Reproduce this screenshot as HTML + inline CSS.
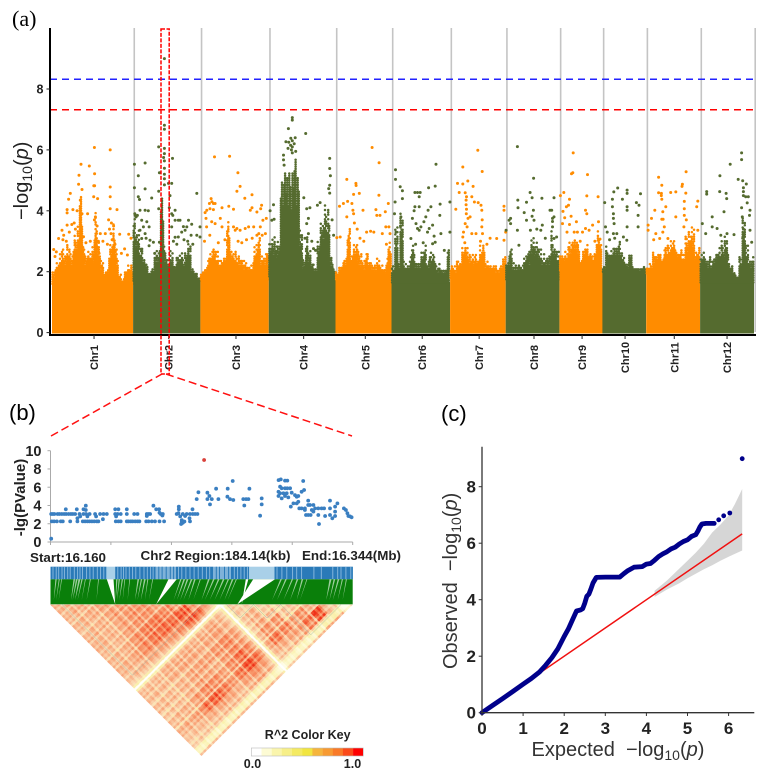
<!DOCTYPE html>
<html>
<head>
<meta charset="utf-8">
<title>GWAS figure</title>
<style>
html,body{margin:0;padding:0;background:#fff;}
body{width:767px;height:777px;overflow:hidden;}
svg{display:block;font-family:"Liberation Sans",sans-serif;filter:blur(.3px);}
.b{font-weight:bold;}
</style>
</head>
<body>
<svg id="fig" xmlns="http://www.w3.org/2000/svg" width="767" height="777" viewBox="0 0 767 777">
<rect width="767" height="777" fill="#fff"/>
<text x="12" y="26" font-family="Liberation Serif,serif" font-size="22">(a)</text>
<text x="9" y="420" font-size="22">(b)</text>
<text x="441" y="421" font-size="22">(c)</text>
<g id="manhattan"></g>
<g id="zoomguides"></g>
<g id="regional"></g>
<g id="ld"></g>
<g id="qq"></g>
</svg>
<script>
/* ===== Panel (a) Manhattan data ===== */
const chromNames = ["Chr1","Chr2","Chr3","Chr4","Chr5","Chr6","Chr7","Chr8","Chr9","Chr10","Chr11","Chr12"];
const chromLengthsMb = [43,35.7,36.3,35.4,29.7,31.1,29.5,28.5,22.8,23.2,28.6,28.6];
const chromLabelMb = [22.3,18.9,18.9,18.5,15.8,16.3,15.4,15,12,12,14.9,14.3];
const yTicksA = [0,2,4,6,8];
const thresholdBlue = 8.32;
const thresholdRed = 7.32;
/* level under which each chromosome is a solid mass of points */
const solidTop = [1.6,1.7,1.75,1.85,1.75,1.65,1.8,1.75,2.05,2.0,1.95,1.65];
/* upper edge of the speckled band per evenly spaced bin along each chromosome */
const denseTop = [
 [2.0,2.3,2.6,2.8,2.7,2.9,2.6,3.2,3.6,4.5,3.0,2.6,2.7,2.9,4.0,3.0,2.4,2.0,2.1,2.9,3.6,2.8,1.9,1.6,2.1,2.2,2.3],
 [3.8,3.4,2.9,2.5,2.3,2.0,2.1,2.7,2.8,4.6,2.9,2.5,2.7,2.3,2.6,2.7,2.5,2.7,3.0,2.2,2.0,1.6],
 [2.0,2.1,2.4,2.7,2.8,2.7,2.5,2.5,2.6,3.7,2.7,2.7,2.6,2.5,2.4,2.3,2.2,2.3,3.0,3.2,2.6,2.5,2.7],
 [3.0,3.3,3.0,3.0,5.0,5.3,5.25,5.3,5.75,5.3,3.4,2.4,3.2,2.8,2.3,2.1,3.0,3.6,4.2,4.2,2.5,2.2],
 [2.0,2.2,2.4,2.5,3.5,2.7,3.0,2.9,2.6,2.4,2.7,2.4,2.3,2.2,2.5,2.3,2.1,2.5,3.0],
 [2.2,3.5,2.4,4.0,2.4,2.2,2.5,3.0,2.4,2.4,2.7,2.9,2.4,2.7,2.7,2.2,2.3,2.1,2.1,2.9],
 [2.2,2.2,2.4,2.4,2.8,2.9,2.6,2.7,2.6,2.5,2.9,3.0,2.4,2.3,2.2,2.2,2.1,2.2,2.5],
 [2.4,2.8,2.4,2.2,2.3,2.2,2.6,2.8,3.2,3.2,3.0,2.8,2.6,2.5,2.6,3.4,2.8,2.7],
 [2.6,2.5,2.7,3.0,3.1,3.2,3.1,2.4,2.8,2.9,2.6,2.6,2.6,3.4,3.0],
 [2.2,2.9,2.6,2.8,2.9,3.0,2.7,2.5,2.3,2.6,2.2,2.1,2.1,2.1,2.2],
 [2.2,2.3,2.7,2.6,2.7,2.5,2.9,3.0,3.1,3.1,2.7,2.8,2.6,3.3,3.4,3.5,2.7,2.8],
 [2.7,2.7,2.4,2.5,2.5,2.7,2.9,3.1,3.2,2.6,2.2,2.0,1.9,2.6,3.9,3.0,2.4,2.5]
];
/* texture profile: how far each pixel column reaches into the band, and how well it is filled */
const columnReach = [1,.8,.95,.68,1,.85,.62,.98,.74,.9,1,.66,.94,.82,1,.72,.88];
const columnFill = [.55,1,.3,.8,.45,.95,.2,.7,.38,1,.6,.25,.88,.5,.72,.33,.65,.15,.92];
/* SNPs above the dense band: [Mb on chromosome, -log10 p] */
const snps1 = [[22.5,6.08],[30.9,6.0],[15.4,5.53],[19.8,5.47],[22.6,5.22],[14.3,5.17],[14.1,4.87],[22.6,4.82],[22.2,4.82],[30.9,4.78],[15.9,4.7],[9.7,4.57],[30.9,4.46],[22.1,4.46],[24.2,4.4],[8.8,4.38],[15,4.35],[8,4.04],[8,3.93],[15.9,3.9],[18.9,3.9],[34.5,4.04],[11.1,4.04],[30.9,4.07],[8,3.53],[5.3,3.36],[30,3.7],[32.7,3.5],[31.5,3.6],[3.5,3.09],[6.2,3.2],[20.3,3.0],[25.6,3.25],[28.3,3.25],[35.9,3.23],[40.7,3.23],[41.9,3.1],[0.9,2.73],[22.5,3.7],[23,3.8],[23.9,3.5],[13.3,4.0],[11.8,3.6],[12.4,3.4],[10.5,3.55],[9.2,3.3],[5.8,3.05],[7.6,3.0],[2.3,2.65],[24.6,3.0],[27,3.0],[29.4,2.9],[30.5,3.4],[31.3,3.25],[33.4,2.9],[36.8,2.6],[38.5,2.75],[40,2.55],[1.6,2.5],[16.7,3.15],[18,2.95],[25,2.6],[31.9,3.05]];
const snps2 = [[16.6,9.0],[16.6,6.81],[16.6,6.68],[13.6,6.1],[16.6,6.05],[16.6,5.88],[16.2,5.75],[16.6,5.64],[20.9,5.72],[0.7,5.53],[6.4,5.57],[14,5.25],[2.8,5.15],[16.6,5.2],[20.5,4.9],[0.7,4.76],[6.4,4.72],[13.6,4.64],[33.8,4.57],[2.8,4.46],[3.4,4.37],[9.9,4.42],[19.6,4.5],[13.6,4.07],[3.7,4.02],[1.1,3.85],[6.4,4.02],[8.1,4],[22.3,4.02],[20.5,3.9],[29.4,3.69],[24.9,3.69],[31.1,3.56],[26.7,3.48],[35.5,3.47],[4.6,3.69],[7.3,3.64],[5.5,3.47],[3.7,3.36],[8.5,3.47],[6.4,3.25],[4.6,3.09],[9,3.03],[10.8,2.97],[14,2.97],[22.3,3.69],[24,3.69],[20.5,3.47],[28.5,3.47],[25.8,3.3],[27.6,3.36],[24,3.14],[22.3,3.13],[30.8,3.2],[33.8,3.2],[31.7,2.9],[35.5,3.14],[16.6,5.4],[16.6,5.05],[16.6,4.85],[18.8,4.9],[19.2,4.1],[21.1,3.85],[0.9,3.9],[1.6,3.8],[2.3,3.85],[6.9,3.1],[8.5,2.85],[11.5,2.6],[21.4,3.0],[23.2,2.9],[29,3.0],[27,3.05]];
const snps3 = [[7.5,5.77],[15.5,5.79],[19.9,5.25],[21.1,4.8],[19.4,4.64],[27.4,4.53],[23.6,4.41],[5.7,4.4],[6.1,4.3],[4.8,4.24],[6.9,4.24],[7.8,4.24],[3.4,4.02],[5.1,4.07],[6.9,4.04],[2.5,3.94],[15.1,4.15],[17.6,4.05],[27.4,4.1],[32.5,4.18],[32,4.07],[11.5,4.1],[26.5,4.02],[30,3.96],[10.6,3.75],[3,3.75],[3.3,3.47],[6,3.64],[7.8,3.58],[11.5,3.47],[35,3.75],[33.2,3.69],[19.4,3.42],[21.1,3.36],[23.8,3.42],[25.6,3.47],[28.3,3.47],[31.8,3.47],[30,3.2],[31,3.25],[32.8,3.2],[34.5,3.25],[17.6,3.47],[18.5,3.36],[5,3.2],[2.2,3.0],[13,3.05],[20,3.0],[22,2.95],[24.5,3.05],[27.5,3.1],[9.5,2.95]];
const snps4 = [[12.5,7.06],[12.5,6.98],[10.4,6.7],[19.6,6.54],[14,6.4],[11.7,6.38],[9.1,6.27],[12.5,6.3],[12.5,6.1],[12.5,5.9],[10.6,6.25],[13.5,6.2],[11.6,6.15],[7.8,5.83],[7.8,5.67],[8.1,5.5],[10.2,6.05],[14.3,5.95],[12,6.0],[32.3,5.72],[32.3,5.39],[32.7,5.15],[32.3,4.84],[31.8,4.73],[32.3,4.58],[2.5,4.2],[0.7,4],[21.8,4.1],[20.1,4.07],[27.2,4.27],[25.8,4.18],[18.6,4.43],[21,3.75],[20.1,3.58],[1.6,3.69],[2.8,3.72],[21,3.25],[23.7,2.76],[19.2,3.1],[22.8,3.0],[24.8,2.7],[26.8,2.55],[33.6,3.7],[34.4,3.2]];
const snps5 = [[19.4,6.08],[23.1,5.58],[6,5.03],[10.8,4.9],[10.9,4.83],[23,4.51],[12.6,4.57],[9.6,4.54],[6.4,4.31],[4.2,4.24],[2.1,4.15],[8.7,4.24],[21.4,4.04],[14.6,4.02],[9.2,4.02],[9.6,3.9],[21.9,3.85],[6,3.8],[28,4.24],[26.4,3.97],[28.3,3.47],[28.9,3.25],[26.7,3.47],[18.6,3.33],[16.5,3.3],[13,3.1],[2.5,3.14],[0.7,3.12],[20.3,3.3],[23.6,3.85],[10,3.6],[11.5,3.4],[15,3.0],[24.8,3.25],[27,2.9]];
const snps6 = [[23.6,5.53],[2.1,5.35],[2.1,5.03],[23.2,4.81],[19.7,4.76],[4.6,4.79],[5.8,4.66],[12.4,4.6],[13.8,4.6],[15.2,4.6],[14.7,4.46],[5.8,4.4],[1.9,4.29],[31,4.29],[25.8,4.22],[20.9,4.13],[19.4,4.02],[12.4,4.13],[14.7,4.13],[12,4],[18.2,3.8],[25.6,3.85],[11.1,3.75],[13,3.58],[13.8,3.42],[15.6,3.47],[17.2,3.64],[14.7,3.36],[21.8,3.53],[20,3.42],[10.3,3.09],[19.1,3.3],[22.6,3.17],[26.2,3.25],[31,3.3],[23.2,2.97],[21.8,2.92],[4.8,3.5],[5.2,3.2],[1.6,3.9],[5,3.8],[2.4,3.3],[12.8,2.9],[16.8,2.95],[28,2.7]];
const snps7 = [[14.7,5.99],[6.7,5.44],[17,5.29],[9.4,4.98],[3.9,4.9],[6.7,4.88],[12.2,4.8],[4.8,4.6],[8,4.59],[8.7,4.46],[11.5,4.46],[8.5,4.35],[8.5,4.2],[8.7,4.05],[8.6,3.9],[12.9,4.29],[14.9,4.27],[16.4,4.18],[16.8,4.02],[3,4.05],[28.6,4.15],[28.6,4.02],[16.8,3.47],[8,3.58],[9,3.47],[7.1,3.3],[11.5,3.25],[13.7,3.25],[17.2,3.25],[6.7,3.14],[21.2,3.1],[24.7,3.09],[16.1,3.0],[29.5,3.3],[28.6,3.03],[9.5,3.75],[10.6,3.8],[17,3.7],[7.8,2.95],[19.5,2.9]];
const snps8 = [[6.2,6.11],[14.8,5.07],[12.9,4.6],[6.4,4.35],[11,4.28],[14,4.43],[19.2,4.41],[25.6,4.43],[6.5,4.1],[14.7,4.02],[23.5,4.02],[24.4,4.02],[9.8,3.94],[25.6,3.8],[24.8,3.75],[14,3.82],[15,3.69],[2.6,3.75],[1.8,3.69],[11,3.69],[0.2,3.36],[2.6,3.58],[6.2,3.36],[19.4,3.53],[18.6,3.36],[13.1,3.36],[24.8,3.47],[27,3.14],[25.6,3.09],[7,2.87],[16.5,3.4],[21,3.1],[24.8,3.65]];
const snps9 = [[7.3,5.9],[6.4,5.22],[7.1,5.25],[14.9,5.19],[2.3,4.6],[0.5,4.5],[14.5,4.49],[20.5,4.46],[5.3,4.38],[4.8,4.18],[3.7,4.13],[1.9,3.98],[2.8,3.77],[13.8,4.02],[14.5,3.9],[6.2,3.82],[9,3.64],[5.3,3.55],[1.6,3.58],[20.7,3.64],[17.6,3.53],[13.8,3.42],[15.7,3.36],[7.8,3.3],[9.5,3.3],[12.2,3.3],[21.5,3.07],[4,3.3],[18.8,3.0],[11,3.0]];
const snps10 = [[8.1,4.75],[6,4.62],[13.1,4.68],[13.1,4.57],[20.2,4.56],[1.2,4.27],[5.3,4.38],[10.6,4.38],[13.1,4.13],[13.1,4.02],[18,4.27],[19.4,4.18],[5.3,4.13],[5.8,3.9],[5.8,3.75],[6.2,3.58],[18.9,3.85],[18.9,3.47],[13.1,3.47],[1.6,3.47],[2.5,3.3],[5.8,3.25],[7.6,3.25],[11.1,3.14],[12.9,3.03],[6.5,3.1],[3.8,3.05]];
const snps11 = [[6.6,5.1],[21.2,5.28],[19.2,4.87],[8.3,4.84],[19,4.8],[6.6,4.59],[8.1,4.57],[13,4.6],[15.7,4.62],[8,4.5],[21,4.58],[20.2,4.31],[27.4,4.32],[8.3,4.38],[10.4,4.13],[4.6,4.02],[8.8,3.97],[20.2,4.07],[26.8,4.13],[15.7,3.8],[2.8,3.75],[8.3,3.72],[9,3.72],[20.2,3.85],[1,3.53],[1,3.36],[9.6,3.47],[8.8,3.3],[5.1,3.25],[20,3.47],[11.5,3.09],[7.2,3.09],[27.4,3.36],[21.3,3.7],[4,3.05]];
const snps12 = [[22,5.9],[22,5.68],[16,5.53],[10.5,5.15],[20.2,5.03],[22.6,4.99],[24.5,4.88],[23,4.76],[23,4.63],[23,4.5],[3.5,4.63],[3.5,4.55],[10.4,4.63],[13.8,4.57],[14.1,4.4],[24.2,4.46],[25.6,4.46],[25,4.26],[22,4.1],[12.7,3.97],[26.5,4.02],[26.2,3.85],[6.4,3.8],[22.4,3.8],[1.2,3.58],[6.4,3.47],[9,3.42],[26.5,3.36],[27.4,2.97],[14.3,3.25],[18,3.22],[3,3.25],[11,3.2],[23,3.4],[22.6,3.1],[23.4,3.0]];
const chromSnps = [snps1,snps2,snps3,snps4,snps5,snps6,snps7,snps8,snps9,snps10,snps11,snps12];

/* ===== Panel (b) regional data: kb from region start ===== */
const regionTicksY = [0,2,4,6,8,10];
const regionTicksKb = [0,36.8,73.7,110.5,147.3,184.14];
const regionLevelHigh = 3.07;
const regionLevelLow = 2.26;
const regionHighKb = [.4,1.4,2.4,4.3,5.5,6.9,8.3,9.5,11,12.4,13.6,15,17.7,20.1,21.7,23.8,27.2,30.2,32.3,34.3,39.4,40.8,42.8,46.5,51,53,58.7,60.7,67.2,68.4,76.9,80.6,83,85,86.7,88.1,89.5];
const regionLowKb = [.8,2.2,3.9,6.3,7.5,12,16.4,19.7,21.1,22.5,23.8,25.2,26.6,28.2,29.2,39.8,41.4,42.8,46.5,47.5,48.9,50.1,51.6,53,54.2,58.3,59.7,61.7,63.7,66.4,69.2,80,85];
const regionOther = [[.4,.36],[9.3,3.58],[16,3.58],[20.1,3.58],[21.5,3.98],[21.5,3.5],[16.4,2.6],[18.1,2.8],[22.5,2.8],[27.8,2.8],[31.9,2.5],[39.4,3.58],[41.4,3.58],[46.5,3.58],[40,2.8],[59.7,3.07],[58.7,2.85],[62.7,3.98],[64.4,3.58],[66.2,3.58],[66.4,3.2],[68.2,2.9],[78.2,3.88],[78.2,3.58],[78,3.15],[79,2.8],[80,2.4],[80.6,2.1],[79.6,1.97],[81.6,2.24],[82,2.85],[84.7,2.6],[86.5,3.58],[89.1,4.7],[90.1,5.44],[95.6,5.4],[96.8,5.04],[95.6,4.7],[98.3,4.7],[97.2,4.12],[100.9,5.84],[102.3,4.7],[108,5.84],[107.8,4.96],[109.4,4.7],[111,6.68],[111.4,4.6],[121.2,5.84],[117.5,4.7],[119.2,4.7],[120.6,4.7],[118.1,4],[127.7,2.88],[128.7,4.78],[128.7,4.12],[139,6.78],[140.3,6.86],[142.9,6.72],[144.3,6.72],[139.9,6.06],[140.9,5.88],[142.9,5.88],[144.3,5.88],[146,5.88],[138.9,5.5],[139.9,5.33],[141.9,5.33],[143.9,5.33],[138.9,5.04],[140.9,4.78],[142.9,5.04],[144.9,4.88],[147,5.4],[149,5.14],[150,4.96],[151,5.04],[153,5.5],[154.5,5.7],[154,6.68],[146.4,3.88],[148,4.23],[150,4.23],[151,4.4],[151.6,3.68],[153,3.68],[155,3.68],[157,4.53],[157,4.05],[158.1,4.05],[160.2,4.05],[155.7,2.96],[157,2.96],[158.5,2.96],[155,3.5],[159.2,3.5],[160.2,3.33],[161.2,3.68],[163.2,3.68],[165.2,3.68],[166.7,3.68],[163.6,1.97],[163.2,2.96],[167.3,2.85],[170.3,4.53],[170.3,3.68],[170.3,2.96],[171.7,2.6],[173.4,3.33],[173.4,3.88],[174.8,4.23],[173.4,2.85],[178.8,3.68],[180,3.5],[180.9,3.14],[181.5,2.85],[182.5,2.8],[183.5,2.7]];
const regionLead = [93.6,8.98];
/* SNP-track shading segments [startKb,endKb,shade]; 0 dark, 1 mid, 2 light */
const trackSegments = [[0,34,0],[34,39.4,2],[39.4,64,0],[64,76.5,1],[76.5,99,0],[99,110,1],[110,121,0],[121,136.5,2],[136.5,184.14,0]];
const trackStreaksKb = [1.5,3.5,5,7,8.5,10.5,12,14.5,16.5,18,19.5,22,24,26,28.5,30.5,32.5,41,43,44.5,46,48,50,52,54.5,57,59,61,62.5,78,80,82.5,85,87.5,90,92.5,95,97,112,114,116,118,120,138,141,144,147.5,150,153,160.5,165,172,175,177,180,183];
const trackDarkKb = [66,68,70.5,73,75,101,103,106,108.5];
/* white gaps in connector fan: [topStartKb,topEndKb,bottomKb] */
const fanWedges = [[34.3,38.4,39.4],[71.9,76.9,64.4],[123.5,136.8,113.9],[119,120.5,116.5]];
/* pale streaks fanning down from the SNP track: [topStartKb,topEndKb,bottomKb] */
const fanStreaks = [[3,3.8,2],[5,5.6,3.5],[6.5,7,5],[14,15,12.5],[15.5,16.5,13.5],[17,18.2,15],[18.8,19.6,16.5],[21,21.5,19],[24,24.6,22],[29,29.5,28],[40,40.8,39.7],[41.5,42.3,40.5],[43.4,44.2,42],[45,45.5,44],[48,48.5,47],[53,54,51.5],[55,55.8,53],[57,58,55],[59,59.6,57.5],[62,62.5,60],[79,79.8,75],[81,82,77],[83,84,79],[85.5,86.5,81],[87.5,88.5,84],[91,91.6,87],[96,97,92],[99,100,94],[102,103,97],[105,106,100],[108,108.8,103],[110.5,111.5,106],[113,113.6,108],[140,141,135],[143,144,138],[147,147.8,142],[150,151,146],[153,154,150],[156,156.5,152],[170,171.2,168],[172.5,173.5,170],[175,176,172],[177.5,178.2,175],[180,180.6,178]];

/* ===== LD heat map: 18 SNP blocks (upper triangle) × SNP quality ===== */
const ldBlocks = [
 [.64,.62,.62,.6,.62,.62,.6,.62,.62,.58,.6,.6,.6,.58,.6,.62,.55,.6],
 [.64,.64,.62,.62,.6,.6,.62,.64,.62,.6,.6,.6,.6,.62,.64,.58,.6],
 [.66,.66,.64,.62,.66,.7,.72,.64,.62,.62,.6,.62,.64,.7,.6,.6],
 [.68,.7,.68,.72,.78,.78,.66,.64,.64,.62,.66,.72,.84,.62,.6],
 [.7,.72,.74,.82,.82,.68,.62,.66,.66,.7,.76,.88,.64,.6],
 [.7,.72,.82,.84,.7,.62,.64,.66,.66,.72,.76,.62,.6],
 [.68,.78,.86,.78,.62,.64,.68,.66,.68,.7,.62,.6],
 [.7,.92,.92,.62,.66,.72,.74,.76,.82,.68,.62],
 [.72,.86,.64,.68,.76,.8,.86,.94,.72,.62],
 [.68,.6,.62,.68,.72,.76,.82,.68,.6],
 [.55,.55,.56,.56,.6,.66,.6,.55],
 [.52,.62,.68,.72,.8,.62,.55],
 [.5,.6,.72,.76,.66,.56],
 [.5,.58,.7,.72,.58],
 [.55,.72,.82,.62],
 [.6,.95,.68],
 [.6,.7],
 [.5]
];
const snpQuality = [1,.9,1.02,.82,1,1.05,.78,1,.92,1.06,.84,1,.72,1.04,1,.88,1.06,.94,.76,1.04,1,.86,1.08,.8,1,1.04,.88,1.08,1,.82,1.05,.92,1,.74,1.08,1,.86,1.04,.78,1.06,1,.9,1.05,.92,.76,1.04,1,.88,.8,.55,.05,.5,.9,1.02,.88,1.05,.8,1,1.06,.9,.72,1.04,1,.82,1.08,.9,.72,1.04,.92,.76,1.06,1,.84,1.05,.7,1,1.08,.88,1.04,.82,1,1.06,.92,.78,1,.8,.46,.4,.42,.95];
const ldOutlines = [[[3,3],[3,45],[45,45]],[[52,52],[52,60],[60,60],[60,68],[68,68],[68,86],[86,86]]];
const keyColors = ["#ffffff","#fdfbd4","#faf5ac","#f7ef88","#f4ea62","#f1e540","#f5b53c","#f79a32","#f97a28","#fb4a1a","#ff0000"];

/* ===== Panel (c) QQ data ===== */
const qqExpected = [0,0.25,0.5,0.75,1,1.2,1.4,1.55,1.7,1.85,2,2.1,2.2,2.3,2.4,2.45,2.5,2.55,2.6,2.65,2.7,2.78,3,3.2,3.35,3.45,3.55,3.7,3.9,4,4.1,4.2,4.3,4.4,4.5,4.6,4.7,4.8,4.9,5,5.1,5.2,5.25,5.3,5.35,5.45,5.55,5.65,5.76,5.88,6.03,6.33];
const qqObserved = [0,0.25,0.5,0.75,1.01,1.21,1.44,1.68,1.95,2.27,2.7,2.96,3.28,3.6,3.64,3.68,3.88,4.12,4.2,4.38,4.59,4.79,4.8,4.8,4.8,4.92,5.03,5.15,5.17,5.26,5.28,5.4,5.53,5.62,5.7,5.8,5.86,5.97,6.06,6.12,6.24,6.3,6.42,6.57,6.68,6.7,6.7,6.7,6.83,6.97,7.07,8.99];
const ciExpected = [4.2,4.5,4.8,5,5.2,5.4,5.6,5.8,6,6.15,6.33];
const ciUpper = [4.32,4.68,5.1,5.38,5.66,5.98,6.38,6.66,6.98,7.38,7.92];
const ciLower = [4.1,4.36,4.58,4.76,4.92,5.08,5.22,5.38,5.52,5.62,5.74];
const qqLineEnd = 6.33;
const qqTicksX = [0,1,2,3,4,5,6];
const qqTicksY = [0,2,4,6,8];

/* ===== helpers ===== */
const NS = "http://www.w3.org/2000/svg";
function mk(parent, tag, attrs, text){
  const el = document.createElementNS(NS, tag);
  for(const k in attrs) el.setAttribute(k, attrs[k]);
  if(text !== undefined) el.textContent = text;
  parent.appendChild(el);
  return el;
}
const $ = id => document.getElementById(id);

/* ===== draw (a) ===== */
(function(){
  const g = $("manhattan");
  const totalMb = chromLengthsMb.reduce((a,b)=>a+b,0);
  const x0 = 52, pxPerMb = 702/totalMb;
  const yA = v => 332.6 - v*30.45;
  let cum = 0;
  const starts = chromLengthsMb.map(l => { const s = cum; cum += l; return s; });
  const xA = (c, mb) => x0 + (starts[c]+mb)*pxPerMb;
  const colors = ["#FF8C00","#556B2F"];

  chromLengthsMb.forEach((len,c)=>{
    const lx = xA(c,len)+1.2;
    const line = mk(g,"line",{x1:lx,x2:lx,y1:28,y2:332,stroke:"#c4c4c4","stroke-width":1.6});
    
    
  });

  let col_i = 0;
  chromLengthsMb.forEach((len,c)=>{
    const bins = denseTop[c];
    const col = colors[c%2];
    const base = solidTop[c];
    const solid = mk(g,"rect",{x:xA(c,0).toFixed(1),y:yA(base).toFixed(1),width:(xA(c,len)-xA(c,0)).toFixed(1),height:(yA(0)-yA(base)+.9).toFixed(1),fill:col});
    
    
    let d = "";
    const wpx = xA(c,len)-xA(c,0);
    for(let px=0.6; px<wpx-.4; px+=1.05){
      const bin = Math.min(bins.length-1,Math.floor(px/wpx*bins.length));
      const top = bins[bin];
      const span = Math.max(.15,top-base);
      const reach = columnReach[col_i%columnReach.length];
      const x = (xA(c,0)+px).toFixed(1);
      let k = 0;
      for(let v=base; v<=base+span*reach; v+=.075){
        const rel = (v-base)/span;
        const fill = columnFill[(col_i*7+k)%columnFill.length];
        /* tall peaks stay nearly solid, the top of ordinary bins thins out */
        if(span>2.4 || fill+.3 > rel*.9) d += "M"+x+" "+yA(v).toFixed(1)+"h.01";
        k++;
      }
      col_i++;
    }
    const band = mk(g,"path",{d:d,fill:"none",stroke:col,"stroke-width":2.5,"stroke-linecap":"round"});
    
    
    chromSnps[c].forEach(p=>{
      const dot = mk(g,"circle",{cx:xA(c,p[0]).toFixed(1),cy:yA(p[1]).toFixed(1),r:1.5,fill:col});
      
      
    });
  });

  const blue = mk(g,"line",{x1:50,x2:757,y1:yA(thresholdBlue),y2:yA(thresholdBlue),stroke:"#2222ff","stroke-width":1.6,"stroke-dasharray":"7 5"});
  
  
  const red = mk(g,"line",{x1:50,x2:757,y1:yA(thresholdRed),y2:yA(thresholdRed),stroke:"#ff0000","stroke-width":1.5,"stroke-dasharray":"7 5"});
  
  

  const yAxis = mk(g,"line",{x1:50,x2:50,y1:28,y2:335.5,stroke:"#000","stroke-width":2});
  
  
  const xAxis = mk(g,"line",{x1:49,x2:756,y1:335,y2:335,stroke:"#000","stroke-width":2});
  
  

  yTicksA.forEach(v=>{
    const t = mk(g,"line",{x1:46.5,x2:50,y1:yA(v),y2:yA(v),stroke:"#222","stroke-width":1});
    
    
    const l = mk(g,"text",{x:40,y:yA(v)+4.5,"text-anchor":"middle","font-size":12.5,"font-weight":"bold",fill:"#222"},v);
    
    
  });
  chromNames.forEach((n,c)=>{
    const x = xA(c,chromLabelMb[c]);
    const t = mk(g,"line",{x1:x,x2:x,y1:335,y2:339,stroke:"#222","stroke-width":1});
    
    
    const l = mk(g,"text",{transform:"translate("+(x+4)+",357.5) rotate(-90)","text-anchor":"middle","font-size":11,"font-weight":"bold",fill:"#222"},n);
    
    
  });
  const title = mk(g,"text",{transform:"translate(28,220) rotate(-90)","font-size":20,fill:"#222"});
  
  
  mk(title,"tspan",{},"\u2212log");
  mk(title,"tspan",{"font-size":14,dy:4},"10");
  mk(title,"tspan",{dy:-4},"(");
  mk(title,"tspan",{"font-style":"italic"},"p");
  mk(title,"tspan",{},")");
})();

/* ===== zoom guides ===== */
(function(){
  const g = $("zoomguides");
  const box = mk(g,"rect",{x:161,y:29,width:8.2,height:345,fill:"none",stroke:"#ff0000","stroke-width":1.5,"stroke-dasharray":"4 1.5"});
  
  
  const a = mk(g,"polyline",{points:"51,436 162,374",fill:"none",stroke:"#ff1010","stroke-width":1.5,"stroke-dasharray":"8 4"});
  
  
  const b = mk(g,"polyline",{points:"166,374 352,436",fill:"none",stroke:"#ff1010","stroke-width":1.5,"stroke-dasharray":"8 4"});
  
  
})();

/* ===== draw (b) ===== */
(function(){
  const g = $("regional");
  const xB = kb => 50.5 + kb*(302.2/184.14);
  const yB = v => 542 - v*9.13;
  const ax = mk(g,"polyline",{points:"50.5,450.7 50.5,542 352.7,542",fill:"none",stroke:"#aaa","stroke-width":1});
  
  
  regionTicksY.forEach(v=>{
    const t = mk(g,"line",{x1:47.5,x2:50.5,y1:yB(v),y2:yB(v),stroke:"#aaa","stroke-width":1});
    
    
    const l = mk(g,"text",{x:41.5,y:yB(v)+5.2,"text-anchor":"end","font-size":14.5,"font-weight":"bold",fill:"#222"},v);
    
    
  });
  regionTicksKb.forEach(k=>{
    const t = mk(g,"line",{x1:xB(k),x2:xB(k),y1:542,y2:545,stroke:"#aaa","stroke-width":1});
    
    
  });
  const drawPoint = (kb,v,col,r) => {
    const c = mk(g,"circle",{cx:xB(kb).toFixed(1),cy:yB(v).toFixed(1),r:r,fill:col});
    
    
  };
  regionHighKb.forEach(k=>drawPoint(k,regionLevelHigh,"#3a7fc1",1.9));
  regionLowKb.forEach(k=>drawPoint(k,regionLevelLow,"#3a7fc1",1.9));
  regionOther.forEach(p=>drawPoint(p[0],p[1],"#3a7fc1",1.9));
  drawPoint(regionLead[0],regionLead[1],"#d9403a",1.9);

  const yT = mk(g,"text",{transform:"translate(25,497.5) rotate(-90)","text-anchor":"middle","font-size":15,"font-weight":"bold",fill:"#222"},"-lg(PValue)");
  
  
  const s = mk(g,"text",{x:30,y:562,"font-size":13,"font-weight":"bold",fill:"#222",textLength:76,lengthAdjust:"spacingAndGlyphs"},"Start:16.160");
  
  
  const m = mk(g,"text",{x:140.5,y:560,"font-size":13,"font-weight":"bold",fill:"#222",textLength:150,lengthAdjust:"spacingAndGlyphs"},"Chr2 Region:184.14(kb)");
  
  
  const e = mk(g,"text",{x:302,y:560,"font-size":13,"font-weight":"bold",fill:"#222",textLength:99,lengthAdjust:"spacingAndGlyphs"},"End:16.344(Mb)");
  
  

  /* SNP track */
  const shades = ["#2a7ab8","#7fb2d9","#a9d0e8"];
  trackSegments.forEach(t=>{
    const r = mk(g,"rect",{x:xB(t[0]).toFixed(1),y:566.7,width:(xB(t[1])-xB(t[0])+.2).toFixed(1),height:12.6,fill:shades[t[2]]});
    
    
  });
  trackStreaksKb.forEach(k=>{
    const l = mk(g,"line",{x1:xB(k).toFixed(1),x2:xB(k).toFixed(1),y1:566.7,y2:579.3,stroke:"#8dbbdf","stroke-width":.9});
    
    
  });
  trackDarkKb.forEach(k=>{
    const l = mk(g,"line",{x1:xB(k).toFixed(1),x2:xB(k).toFixed(1),y1:566.7,y2:579.3,stroke:"#2a7ab8","stroke-width":1});
    
    
  });
  /* connector fan */
  const fan = mk(g,"rect",{x:50.5,y:579.3,width:302.2,height:25,fill:"#0a7f0a"});
  
  
  fanStreaks.forEach(w=>{
    const p = mk(g,"polygon",{points:xB(w[0]).toFixed(1)+",579.3 "+xB(w[1]).toFixed(1)+",579.3 "+xB(w[2]).toFixed(1)+",600",fill:"#cfe8cf","fill-opacity":.75});
    
    
  });
  fanWedges.forEach(w=>{
    const p = mk(g,"polygon",{points:xB(w[0]).toFixed(1)+",579.3 "+xB(w[1]).toFixed(1)+",579.3 "+xB(w[2]).toFixed(1)+",604.3",fill:"#fff"});
    
    
  });
})();

/* ===== LD heat map ===== */
(function(){
  const g = $("ld");
  const stops = [[0,[255,255,255]],[.18,[253,250,215]],[.3,[250,240,170]],[.42,[251,224,185]],[.56,[250,192,152]],[.72,[248,150,105]],[.88,[245,100,60]],[1,[240,50,25]]];
  function color(v){
    v = Math.max(0,Math.min(1,v));
    for(let i=1;i<stops.length;i++){
      if(v<=stops[i][0]){
        const a=stops[i-1],b=stops[i],t=(v-a[0])/(b[0]-a[0]);
        return "rgb("+a[1].map((c,k)=>Math.round(c+(b[1][k]-c)*t)).join(",")+")";
      }
    }
    return "rgb(240,50,25)";
  }
  const n = snpQuality.length, x0 = 50.3, top = 604.6, pitch = 302.4/n;
  let d = {};
  for(let i=0;i<n;i++){
    for(let j=i;j<n;j++){
      const a = Math.floor(i/5), b = Math.floor(j/5);
      const r2 = ldBlocks[a][b-a]*snpQuality[i]*snpQuality[j];
      const key = color(r2);
      const cx = x0 + pitch*(i+j+1)/2, cy = top + pitch*(j-i)/2;
      const h = pitch/2+.18;
      const ty = Math.max(top,cy-h);
      (d[key] = d[key] || []).push("M"+cx.toFixed(1)+" "+ty.toFixed(1)+"L"+(cx+h).toFixed(1)+" "+cy.toFixed(1)+"L"+cx.toFixed(1)+" "+(cy+h).toFixed(1)+"L"+(cx-h).toFixed(1)+" "+cy.toFixed(1)+"Z");
    }
  }
  Object.keys(d).forEach(k=>{
    const p = mk(g,"path",{d:d[k].join(""),fill:k});
    
    
  });
  ldOutlines.forEach(o=>{
    const pts = o.map(q=>(x0+pitch*(q[0]+q[1]+1)/2).toFixed(1)+","+(top+pitch*(q[1]-q[0])/2).toFixed(1)).join(" ");
    const l = mk(g,"polyline",{points:pts,fill:"none",stroke:"#a8b8a8","stroke-width":.5});
    
    
  });
  const kt = mk(g,"text",{x:307.7,y:739,"text-anchor":"middle","font-size":12.5,"font-weight":"bold",fill:"#222"},"R^2 Color Key");
  
  
  const kw = 112/keyColors.length;
  keyColors.forEach((c,i)=>{
    const r = mk(g,"rect",{x:(251.3+i*kw).toFixed(1),y:748,width:(kw+.2).toFixed(1),height:8,fill:c});
    
    
  });
  const kb = mk(g,"rect",{x:251.3,y:748,width:112,height:8,fill:"none",stroke:"#bbb","stroke-width":.6});
  
  
  const k0 = mk(g,"text",{x:252.5,y:768,"text-anchor":"middle","font-size":12.5,"font-weight":"bold",fill:"#222"},"0.0");
  
  
  const k1 = mk(g,"text",{x:352.5,y:768,"text-anchor":"middle","font-size":12.5,"font-weight":"bold",fill:"#222"},"1.0");
  
  
})();

/* ===== draw (c) ===== */
(function(){
  const g = $("qq");
  const xQ = e => 482 + e*41.1;
  const yQ = o => 712.7 - o*28.25;
  let ci = "";
  ciExpected.forEach((e,i)=>{ ci += xQ(e).toFixed(1)+","+yQ(ciUpper[i]).toFixed(1)+" "; });
  for(let i=ciExpected.length-1;i>=0;i--){ ci += xQ(ciExpected[i]).toFixed(1)+","+yQ(ciLower[i]).toFixed(1)+" "; }
  const band = mk(g,"polygon",{points:ci,fill:"#d6d6d6"});
  
  
  const rl = mk(g,"line",{x1:xQ(0),y1:yQ(0),x2:xQ(qqLineEnd),y2:yQ(qqLineEnd),stroke:"#f01010","stroke-width":1.5});
  
  
  /* dense run: thick path through observed quantiles up to the break */
  const denseCount = qqExpected.length-4;
  const pts = qqExpected.slice(0,denseCount).map((e,i)=>xQ(e).toFixed(1)+","+yQ(qqObserved[i]).toFixed(1)).join(" ");
  const qqPath = mk(g,"polyline",{points:pts,fill:"none",stroke:"#00008b","stroke-width":4.8,"stroke-linejoin":"round","stroke-linecap":"round"});
  
  
  qqExpected.forEach((e,i)=>{
    if(i<denseCount) return;
    const c = mk(g,"circle",{cx:xQ(e).toFixed(1),cy:yQ(qqObserved[i]).toFixed(1),r:2.4,fill:"#00008b"});
    
    
  });
  const ax = mk(g,"polyline",{points:"482,446.7 482,712.7 754.3,712.7",fill:"none",stroke:"#333","stroke-width":1.3});
  
  
  qqTicksX.forEach(v=>{
    const t = mk(g,"line",{x1:xQ(v),x2:xQ(v),y1:712.7,y2:716,stroke:"#333","stroke-width":1});
    
    
    const l = mk(g,"text",{x:xQ(v),y:734,"text-anchor":"middle","font-size":17,"font-weight":"bold",fill:"#222"},v);
    
    
  });
  qqTicksY.forEach(v=>{
    const t = mk(g,"line",{x1:478.7,x2:482,y1:yQ(v),y2:yQ(v),stroke:"#333","stroke-width":1});
    
    
    const l = mk(g,"text",{x:476,y:yQ(v)+6,"text-anchor":"end","font-size":17,"font-weight":"bold",fill:"#222"},v);
    
    
  });
  const xt = mk(g,"text",{x:531.5,y:756,"font-size":20,fill:"#333"});
  
  
  mk(xt,"tspan",{},"Expected \u00a0\u2212log");
  mk(xt,"tspan",{"font-size":14,dy:4},"10");
  mk(xt,"tspan",{dy:-4},"(");
  mk(xt,"tspan",{"font-style":"italic"},"p");
  mk(xt,"tspan",{},")");
  const yt = mk(g,"text",{transform:"translate(457,669) rotate(-90)","font-size":20,fill:"#333"});
  
  
  mk(yt,"tspan",{},"Observed \u00a0\u2212log");
  mk(yt,"tspan",{"font-size":14,dy:4},"10");
  mk(yt,"tspan",{dy:-4},"(");
  mk(yt,"tspan",{"font-style":"italic"},"p");
  mk(yt,"tspan",{},")");
})();
</script>
</body>
</html>
